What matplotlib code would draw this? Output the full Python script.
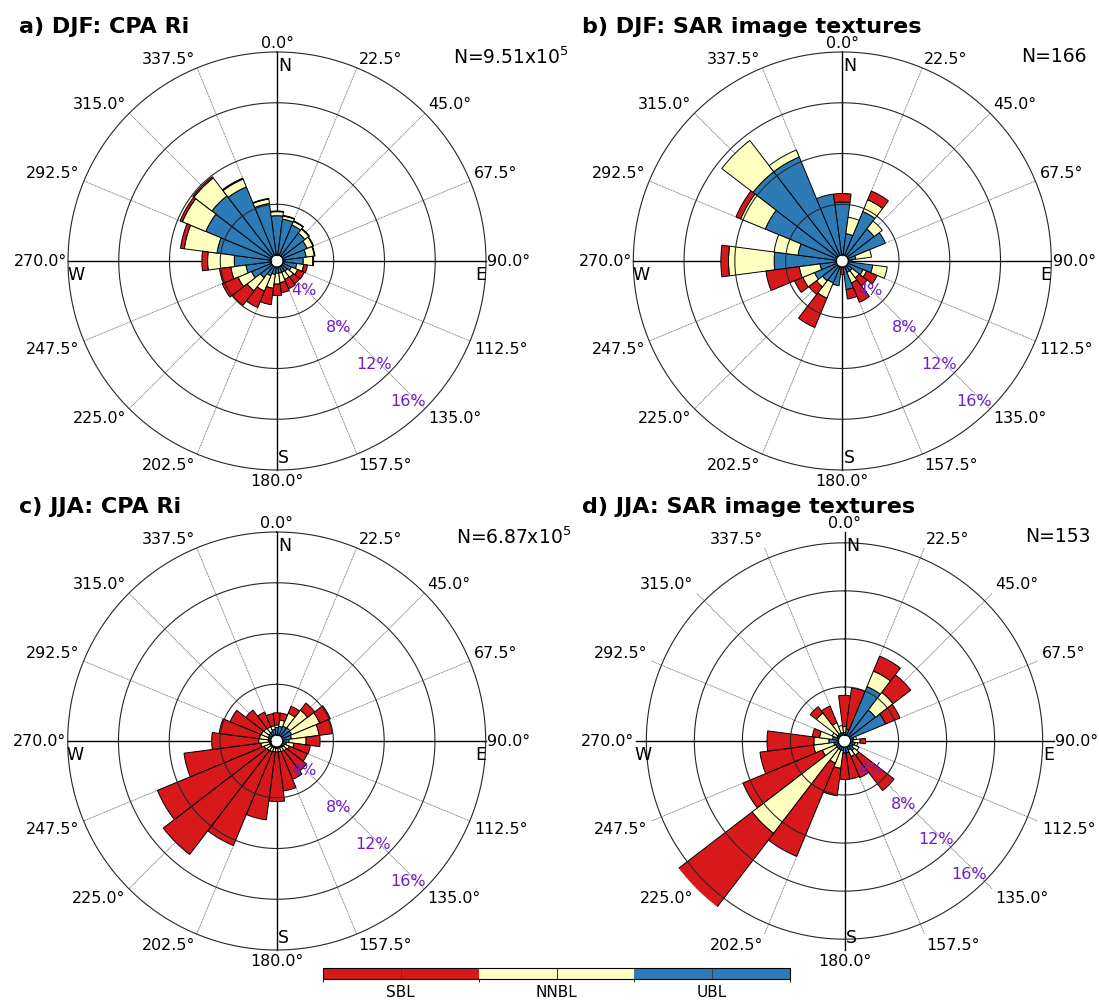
import numpy as np
import matplotlib
matplotlib.use("Agg")
import matplotlib.pyplot as plt
from matplotlib.colors import ListedColormap, BoundaryNorm
from matplotlib.cm import ScalarMappable

# ---------------------------------------------------------------------------
# Data: frequency of occurrence (%) per 15-degree wind-direction sector,
# split by boundary-layer class (stacked UBL -> NNBL -> SBL from the centre).
# ---------------------------------------------------------------------------
directions = np.arange(0, 360, 15)          # sector centres (deg)
classes = ["SBL", "NNBL", "UBL"]
class_colors = ["#d7191c", "#ffffbf", "#2c7bb6"]

# a) DJF, CPA Ri
djf_cpa_ubl = [3.10, 2.85, 2.60, 2.30, 2.10, 1.85, 1.60, 1.10, 0.75, 0.55, 0.50, 0.50,
               0.50, 0.60, 0.80, 1.20, 1.70, 2.00, 2.90, 4.30, 5.60, 6.00, 5.85, 4.10]
djf_cpa_nnbl = [0.32, 0.25, 0.30, 0.40, 0.50, 0.65, 0.75, 0.55, 0.55, 0.60, 0.60, 0.75,
                0.85, 1.10, 1.30, 1.30, 1.15, 1.20, 2.10, 2.60, 2.00, 1.78, 0.67, 0.35]
djf_cpa_sbl = [0.05, 0.05, 0.05, 0.05, 0.05, 0.05, 0.07, 0.30, 0.55, 0.65, 0.80, 0.80,
               0.90, 1.30, 1.40, 1.45, 1.35, 0.90, 0.45, 0.30, 0.20, 0.12, 0.08, 0.05]

# b) DJF, SAR image textures
djf_sar_ubl = [4.18, 1.70, 3.75, 2.70, 3.20, 0.60, 0.30, 1.95, 1.30, 0.50, 0.50, 1.80,
               0.00, 1.50, 1.40, 1.50, 1.90, 1.30, 4.90, 3.05, 6.10, 8.40, 8.40, 4.85]
djf_sar_nnbl = [0.00, 1.30, 1.00, 0.80, 0.00, 1.25, 0.00, 1.15, 0.30, 0.70, 0.90, 0.00,
                0.00, 0.00, 1.30, 0.60, 1.00, 1.65, 3.60, 1.90, 2.10, 3.10, 0.60, 0.00]
djf_sar_sbl = [0.67, 0.00, 0.75, 0.00, 0.00, 0.00, 0.00, 0.00, 0.90, 0.80, 1.65, 0.75,
               0.60, 0.00, 2.50, 0.75, 0.70, 2.65, 0.60, 0.00, 0.40, 0.00, 0.00, 0.00]

# c) JJA, CPA Ri
jja_cpa_ubl = [0.60, 0.70, 0.80, 0.85, 0.80, 0.70, 0.50, 0.30, 0.20, 0.15, 0.10, 0.10,
               0.10, 0.10, 0.10, 0.10, 0.10, 0.10, 0.15, 0.20, 0.25, 0.30, 0.35, 0.45]
jja_cpa_nnbl = [0.20, 0.50, 1.10, 1.75, 2.40, 2.20, 1.35, 0.60, 0.40, 0.35, 0.35, 0.30,
                0.30, 0.30, 0.35, 0.40, 0.50, 0.70, 0.80, 0.70, 0.60, 0.50, 0.40, 0.30]
jja_cpa_sbl = [0.95, 0.55, 0.60, 0.70, 0.90, 1.05, 1.10, 1.30, 1.55, 2.00, 2.35, 3.10,
               3.90, 5.40, 8.00, 10.30, 9.10, 6.10, 3.70, 3.20, 2.65, 1.80, 1.25, 0.95]

# d) JJA, SAR image textures
jja_sar_ubl = [0.20, 0.50, 4.40, 2.75, 3.20, 0.30, 0.20, 0.40, 0.30, 0.50, 0.30, 0.50,
               0.50, 0.30, 0.30, 0.30, 0.30, 0.40, 0.80, 0.50, 0.20, 0.20, 0.20, 0.20]
jja_sar_nnbl = [0.50, 0.00, 1.40, 1.85, 0.00, 0.20, 0.60, 0.20, 0.50, 0.50, 0.60, 0.00,
                0.00, 1.50, 1.20, 8.90, 1.20, 1.70, 1.25, 1.10, 0.40, 2.25, 0.95, 0.60]
jja_sar_sbl = [2.60, 3.45, 1.35, 1.85, 1.30, 0.00, 0.45, 0.00, 0.00, 3.70, 1.90, 2.20,
               2.20, 2.30, 8.40, 7.90, 7.15, 4.50, 3.90, 0.60, 0.00, 0.65, 1.50, 0.00]

panel_titles = ["a) DJF: CPA Ri", "b) DJF: SAR image textures",
                "c) JJA: CPA Ri", "d) JJA: SAR image textures"]
sample_sizes = [r"N=9.51x10$^{5}$", "N=166", r"N=6.87x10$^{5}$", "N=153"]

ring_values = [4, 8, 12, 16]
grid_angles = np.arange(0, 360, 22.5)
grid_labels = [f"{a:.1f}°" for a in grid_angles]
cardinals = [("N", 0.503, 0.988, "left", "top"),
             ("S", 0.503, 0.006, "left", "bottom"),
             ("W", -0.002, 0.487, "left", "top"),
             ("E", 1.001, 0.487, "right", "top")]
ring_label_color = "#6c1fc4"

# ---------------------------------------------------------------------------
W, H = 1099, 1001
fig = plt.figure(figsize=(W / 100, H / 100), dpi=100)


def px_axes(cx, cy, r=209):
    return [(cx - r) / W, 1 - (cy + r) / H, 2 * r / W, 2 * r / H]


panels = [
    dict(rect=px_axes(277, 261), rmax=16.0, rorg=0.47, nx=0.921,
         data=(djf_cpa_ubl, djf_cpa_nnbl, djf_cpa_sbl)),
    dict(rect=px_axes(842.3, 261), rmax=16.0, rorg=0.47, nx=0.929,
         data=(djf_sar_ubl, djf_sar_nnbl, djf_sar_sbl)),
    dict(rect=px_axes(276.7, 741), rmax=16.0, rorg=0.47, nx=0.928,
         data=(jja_cpa_ubl, jja_cpa_nnbl, jja_cpa_sbl)),
    dict(rect=px_axes(844.5, 741), rmax=16.9, rorg=0.50, nx=0.932,
         data=(jja_sar_ubl, jja_sar_nnbl, jja_sar_sbl)),
]
title_pos = [(0.0173, 0.973), (0.5296, 0.973), (0.0173, 0.494), (0.5296, 0.494)]

theta = np.deg2rad(directions)
width = np.deg2rad(15)
circle = np.linspace(0, 2 * np.pi, 721)

for p, title, nlabel, tpos in zip(panels, panel_titles, sample_sizes, title_pos):
    ax = fig.add_axes(p["rect"], projection="polar")
    ax.set_theta_zero_location("N")
    ax.set_theta_direction(-1)
    ax.set_ylim(0, p["rmax"])
    ax.set_rorigin(-p["rorg"])
    ax.grid(False)
    ax.set_xticks([])
    ax.set_yticks([])
    ax.spines["polar"].set_visible(False)

    # radial direction lines (under the bars)
    for a in grid_angles:
        t = np.deg2rad(a)
        if a % 90 == 0:
            ax.plot([t, t], [0, p["rmax"]], color="k", lw=1.0, zorder=1,
                    clip_on=False)
        else:
            ax.plot([t, t], [0, p["rmax"]], color="0.4", lw=0.6,
                    linestyle=(0, (1.2, 0.8)), zorder=1, clip_on=False)

    # stacked bars: UBL, NNBL, SBL
    ubl, nnbl, sbl = (np.asarray(v, dtype=float) for v in p["data"])
    bottoms = [np.zeros_like(ubl), ubl, ubl + nnbl]
    for vals, base, col in zip([ubl, nnbl, sbl], bottoms,
                               [class_colors[2], class_colors[1], class_colors[0]]):
        m = vals > 0
        ax.bar(theta[m], vals[m], width=width, bottom=base[m], color=col,
               edgecolor="k", linewidth=0.7, align="center", zorder=2)

    # range rings (drawn over the bars)
    for rv in ring_values:
        ax.plot(circle, np.full_like(circle, rv), color="0.15", lw=0.8, zorder=4,
                clip_on=False)
        ax.text(np.deg2rad(137), rv - 1.3, f"{rv}%", color=ring_label_color,
                fontsize=11.5, ha="center", va="center", zorder=6)

    # direction labels around the rim
    for a, lab in zip(grid_angles, grid_labels):
        s, c = np.sin(np.deg2rad(a)), np.cos(np.deg2rad(a))
        ha = "left" if s > 0.1 else ("right" if s < -0.1 else "center")
        va = "bottom" if c > 0.1 else ("top" if c < -0.1 else "center")
        ry = 0.503 if c > 0.1 else 0.509
        rx = 0.511 if abs(c) > 0.1 else 0.503
        ax.text(0.5 + rx * s, 0.5 + ry * c, lab, transform=ax.transAxes,
                ha=ha, va=va, fontsize=11.4, clip_on=False)

    for letter, x, y, ha, va in cardinals:
        ax.text(x, y, letter, transform=ax.transAxes, ha=ha, va=va,
                fontsize=12.5, zorder=7)

    ax.text(p["nx"], 1.012, nlabel, transform=ax.transAxes, ha="left", va="top",
            fontsize=13.5, clip_on=False)

    fig.text(tpos[0], tpos[1], title, fontsize=16, fontweight="bold",
             ha="left", va="center")

# class colour bar
cax = fig.add_axes([323 / W, 1 - 979 / H, 467 / W, 11 / H])
cmap = ListedColormap(class_colors)
norm = BoundaryNorm([0, 1, 2, 3], cmap.N)
cb = fig.colorbar(ScalarMappable(norm=norm, cmap=cmap), cax=cax,
                  orientation="horizontal", ticks=[0.5, 1.5, 2.5])
cb.set_ticklabels(classes)
cb.ax.tick_params(direction="in", length=8, width=0.8, color="0.25",
                  labelsize=11, pad=4)
cb.outline.set_linewidth(0.8)

fig.savefig("out.png", dpi=100)
